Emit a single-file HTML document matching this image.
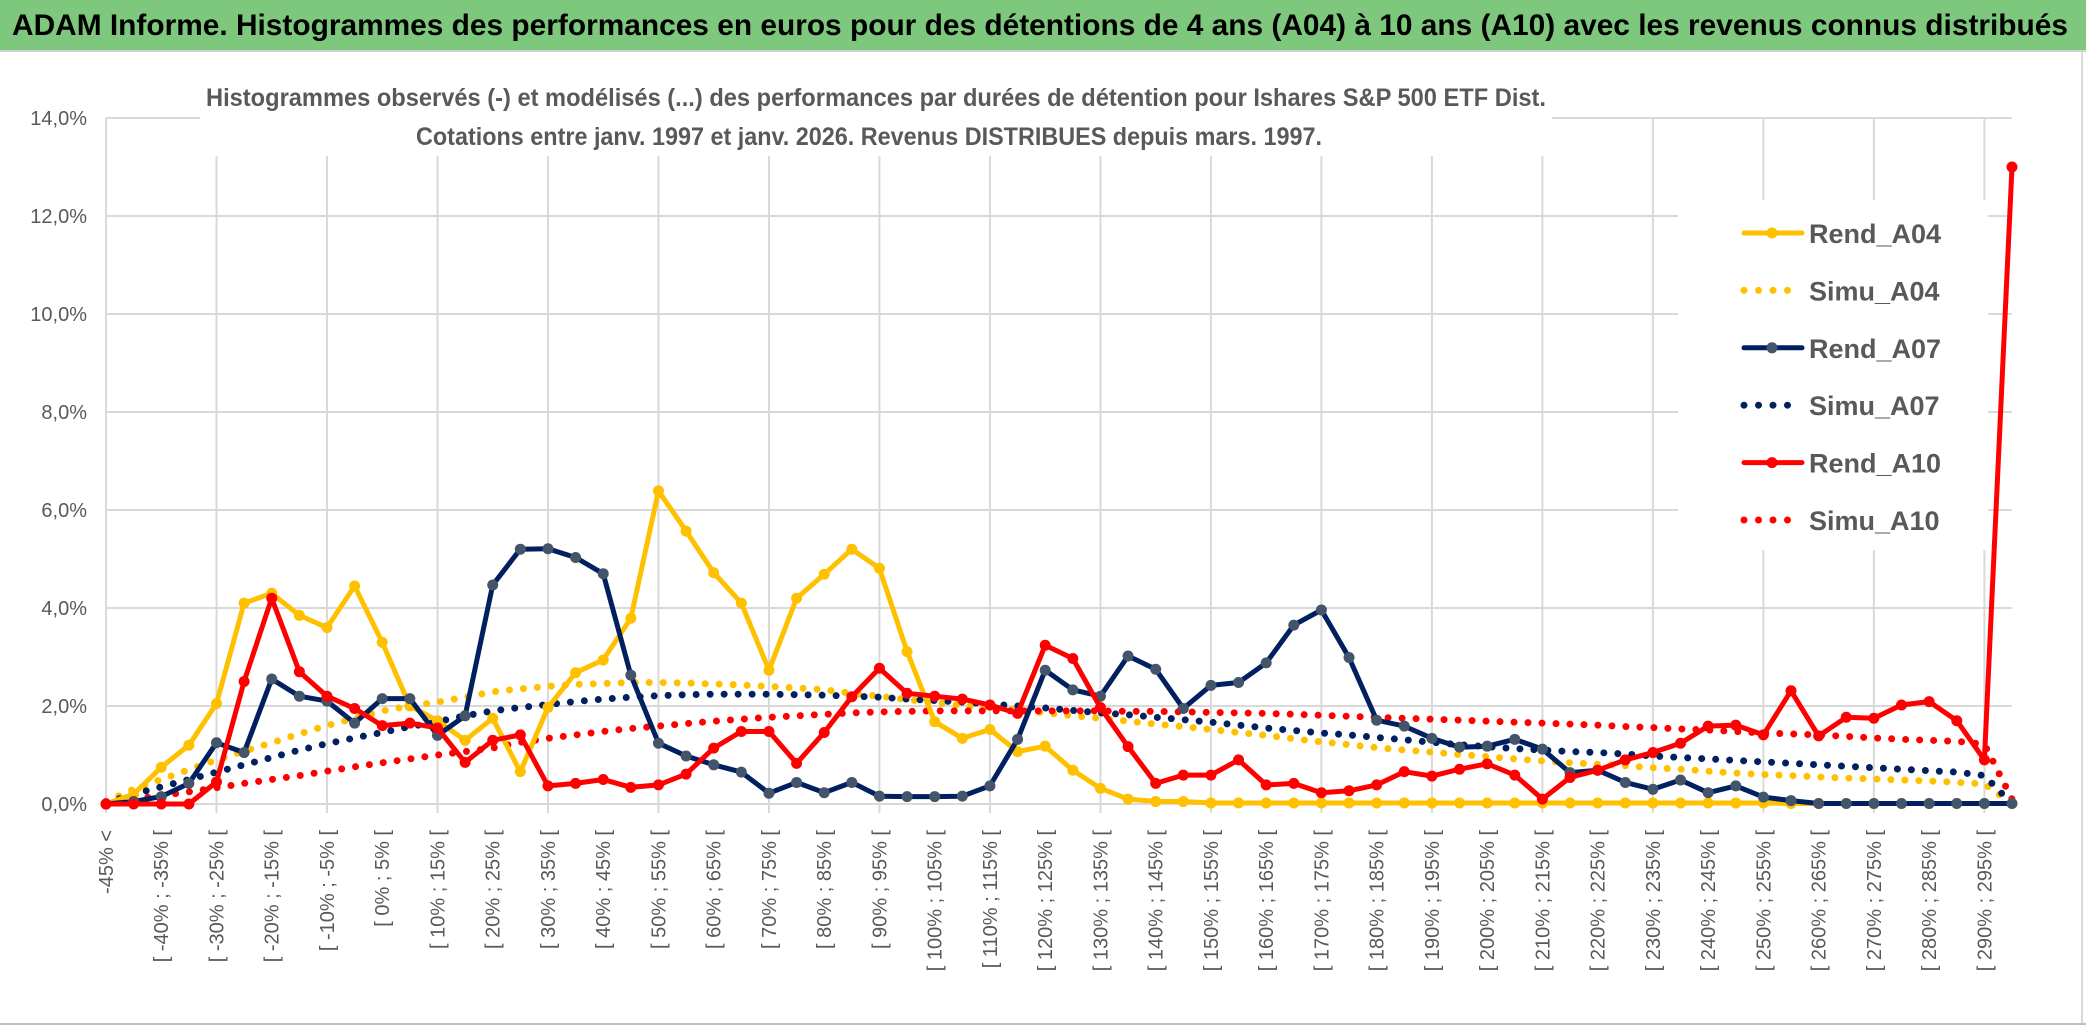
<!DOCTYPE html>
<html><head><meta charset="utf-8">
<style>
html,body{margin:0;padding:0;background:#fff;}
svg{display:block;}
text{font-family:"Liberation Sans Narrow","Liberation Sans",sans-serif;}
</style></head>
<body>
<svg id="chart" width="2086" height="1031" viewBox="0 0 2086 1031" xmlns="http://www.w3.org/2000/svg">
  <rect x="0" y="0" width="2086" height="1031" fill="#fff"/>
  <rect x="0" y="0" width="2086" height="50" fill="#7DC87D"/>
  <line x1="0" y1="51" x2="2086" y2="51" stroke="#D0D0D0" stroke-width="2"/>
  <text x="12" y="35" font-size="30" font-weight="bold" fill="#000" textLength="2056" lengthAdjust="spacingAndGlyphs">ADAM Informe. Histogrammes des performances en euros pour des détentions de 4 ans (A04) à 10 ans (A10) avec les revenus connus distribués</text>
  <line x1="2082" y1="52" x2="2082" y2="1024" stroke="#D9D9D9" stroke-width="2"/>
  <line x1="0" y1="1024" x2="2086" y2="1024" stroke="#BFBFBF" stroke-width="2"/>
  <g id="grid"></g>
  <g id="yaxis"></g>
  <g id="xaxis"></g>
  <rect x="200" y="74" width="1352" height="82" fill="#fff"/>
  <text x="206" y="106" font-size="25" font-weight="bold" fill="#595959" textLength="1340" lengthAdjust="spacingAndGlyphs">Histogrammes observés (-) et modélisés (...) des performances par durées de détention pour Ishares S&amp;P 500 ETF Dist.</text>
  <text x="416" y="145" font-size="25" font-weight="bold" fill="#595959" textLength="906" lengthAdjust="spacingAndGlyphs">Cotations entre janv. 1997 et janv. 2026. Revenus DISTRIBUES depuis mars. 1997.</text>
  <g id="series"></g>
  <g id="legend"></g>
</svg>
<script>
const categories = (function(){
  const c = ["-45% <"];
  for (let v = -45; v < 300; v += 5) c.push("[ " + v + "% ; " + (v + 5) + "% [");
  return c;
})();
const rendA04 = [0,0.2,0.75,1.2,2.05,4.1,4.3,3.85,3.6,4.45,3.3,2.0,1.7,1.3,1.75,0.66,1.97,2.68,2.94,3.79,6.39,5.57,4.72,4.1,2.73,4.2,4.69,5.2,4.81,3.11,1.68,1.34,1.52,1.07,1.18,0.69,0.32,0.1,0.05,0.05,0.02,0.02,0.02,0.02,0.02,0.02,0.02,0.02,0.02,0.02,0.02,0.02,0.02,0.02,0.02,0.02,0.02,0.02,0.02,0.02,0.02,0.01,0.01,0.01,0.01,0.01,0.01,0.01,0.01,0.01];
const simuA04 = [0.05,0.3,0.5,0.7,0.9,1.08,1.25,1.43,1.6,1.75,1.9,2.0,2.08,2.18,2.29,2.35,2.4,2.44,2.46,2.48,2.48,2.47,2.45,2.43,2.4,2.37,2.33,2.26,2.2,2.13,2.07,2.01,1.96,1.91,1.86,1.8,1.75,1.69,1.63,1.58,1.52,1.46,1.4,1.33,1.27,1.21,1.15,1.1,1.06,1.01,0.97,0.92,0.88,0.84,0.81,0.78,0.74,0.71,0.67,0.63,0.6,0.58,0.55,0.53,0.51,0.49,0.47,0.44,0.41,0];
const rendA07 = [0,0.05,0.15,0.42,1.25,1.05,2.55,2.2,2.1,1.65,2.15,2.15,1.4,1.8,4.47,5.2,5.21,5.03,4.7,2.63,1.24,0.98,0.8,0.65,0.22,0.44,0.23,0.44,0.16,0.15,0.15,0.16,0.37,1.32,2.73,2.33,2.2,3.02,2.75,1.95,2.42,2.48,2.88,3.65,3.96,2.99,1.71,1.59,1.34,1.16,1.18,1.32,1.12,0.64,0.69,0.44,0.3,0.49,0.23,0.37,0.14,0.07,0.01,0.01,0.01,0.01,0.01,0.01,0.01,0.01];
const simuA07 = [0.02,0.2,0.35,0.5,0.65,0.8,0.95,1.1,1.23,1.35,1.46,1.58,1.68,1.8,1.9,1.97,2.03,2.09,2.14,2.18,2.21,2.23,2.24,2.24,2.24,2.23,2.22,2.2,2.18,2.14,2.11,2.08,2.04,2.0,1.96,1.91,1.86,1.82,1.77,1.72,1.67,1.61,1.55,1.5,1.45,1.41,1.36,1.31,1.26,1.21,1.17,1.13,1.1,1.07,1.05,1.02,0.98,0.95,0.92,0.89,0.86,0.83,0.8,0.77,0.74,0.71,0.68,0.65,0.58,0];
const rendA10 = [0,0,0,0,0.45,2.5,4.2,2.7,2.2,1.95,1.6,1.65,1.55,0.85,1.3,1.41,0.37,0.42,0.5,0.34,0.39,0.61,1.14,1.48,1.48,0.83,1.46,2.19,2.77,2.26,2.2,2.14,2.02,1.85,3.24,2.97,1.97,1.17,0.42,0.59,0.59,0.9,0.39,0.42,0.23,0.27,0.39,0.66,0.57,0.71,0.82,0.59,0.1,0.54,0.69,0.9,1.05,1.24,1.59,1.61,1.41,2.31,1.39,1.77,1.75,2.02,2.09,1.7,0.9,13.0];
const simuA10 = [0.05,0.1,0.17,0.25,0.33,0.42,0.5,0.58,0.67,0.76,0.84,0.92,1.0,1.07,1.14,1.26,1.34,1.41,1.48,1.54,1.59,1.64,1.69,1.73,1.77,1.8,1.83,1.86,1.88,1.89,1.9,1.9,1.9,1.9,1.9,1.9,1.9,1.89,1.89,1.88,1.87,1.86,1.85,1.83,1.81,1.79,1.77,1.75,1.73,1.71,1.69,1.67,1.65,1.63,1.61,1.58,1.56,1.53,1.51,1.48,1.45,1.43,1.41,1.38,1.35,1.32,1.3,1.28,1.22,0.1];
const yTicks = [0,2,4,6,8,10,12,14];
const yTickLabels = ["0,0%","2,0%","4,0%","6,0%","8,0%","10,0%","12,0%","14,0%"];
const seriesNames = ["Rend_A04","Simu_A04","Rend_A07","Simu_A07","Rend_A10","Simu_A10"];

const NS = "http://www.w3.org/2000/svg";
const X0 = 106, X1 = 2012, Y0 = 804, YTOP = 118, YMAX = 14;
const step = (X1 - X0) / (categories.length - 1);
function xPos(i){ return X0 + i * step; }
function yPos(v){ return Y0 - (v / YMAX) * (Y0 - YTOP); }
function mk(tag, attrs, parent){
  const e = document.createElementNS(NS, tag);
  for (const k in attrs) e.setAttribute(k, attrs[k]);
  parent.appendChild(e);
  return e;
}
const grid = document.getElementById("grid");
const yaxis = document.getElementById("yaxis");
const xaxis = document.getElementById("xaxis");
const seriesG = document.getElementById("series");
const legend = document.getElementById("legend");

yTicks.forEach((t, k) => {
  const l = mk("line", {x1: X0, x2: X1, y1: yPos(t), y2: yPos(t), stroke: "#D9D9D9", "stroke-width": 2}, grid);
  
  
  const tx = mk("text", {x: 87, y: yPos(t) + 7, "text-anchor": "end", "font-size": 20, fill: "#595959"}, yaxis);
  tx.textContent = yTickLabels[k];
  
  
});
for (let i = 0; i < categories.length; i += 4) {
  const l = mk("line", {x1: xPos(i), x2: xPos(i), y1: YTOP, y2: Y0 + 9, stroke: "#D9D9D9", "stroke-width": 2}, grid);
  
  
}
categories.forEach((c, i) => {
  if (i % 2) return;
  const x = xPos(i) + 7, y = 830;
  const tx = mk("text", {x: x, y: y, "text-anchor": "end", "font-size": 20, fill: "#595959", transform: "rotate(-90 " + x + " " + y + ")", "font-family": "Liberation Sans, sans-serif"}, xaxis);
  tx.textContent = c;
  
  
});

function pts(arr){ return arr.map((v, i) => xPos(i).toFixed(1) + "," + yPos(v).toFixed(1)).join(" "); }
function dotted(arr, color, name){
  const p = mk("polyline", {points: pts(arr), fill: "none", stroke: color, "stroke-width": 7, "stroke-linecap": "round", "stroke-dasharray": "0 14"}, seriesG);
  
  
}
function solid(arr, color, mcolor, name){
  const p = mk("polyline", {points: pts(arr), fill: "none", stroke: color, "stroke-width": 5, "stroke-linejoin": "round"}, seriesG);
  
  
  arr.forEach((v, i) => {
    const c = mk("circle", {cx: xPos(i), cy: yPos(v), r: 5.5, fill: mcolor}, seriesG);
    
    
  });
}
dotted(simuA04, "#FFC000", "simu-a04-line");
dotted(simuA07, "#002060", "simu-a07-line");
dotted(simuA10, "#FF0000", "simu-a10-line");
solid(rendA04, "#FFC000", "#FFC000", "rend-a04-line");
solid(rendA07, "#002060", "#44546A", "rend-a07-line");
solid(rendA10, "#FF0000", "#FF0000", "rend-a10-line");

const lb = mk("rect", {x: 1678, y: 200, width: 310, height: 350, fill: "#fff"}, legend);


const legColors = ["#FFC000","#FFC000","#002060","#002060","#FF0000","#FF0000"];
const legMarker = ["#FFC000","#FFC000","#44546A","#002060","#FF0000","#FF0000"];
seriesNames.forEach((n, k) => {
  const cy = 233 + k * 57.4;
  if (k % 2 === 0) {
    const l = mk("line", {x1: 1744, x2: 1802, y1: cy, y2: cy, stroke: legColors[k], "stroke-width": 5, "stroke-linecap": "round"}, legend);
    
    
    const c = mk("circle", {cx: 1772, cy: cy, r: 5.5, fill: legMarker[k]}, legend);
    
    
  } else {
    const l = mk("line", {x1: 1744, x2: k === 5 ? 1800 : 1790, y1: cy, y2: cy, stroke: legColors[k], "stroke-width": 7, "stroke-linecap": "round", "stroke-dasharray": "0 14.5"}, legend);
    
    
  }
  const t = mk("text", {x: 1809, y: cy + 10, "font-size": 27, "font-weight": "bold", fill: "#595959"}, legend);
  t.textContent = n;
  
  
});
</script>
</body></html>
